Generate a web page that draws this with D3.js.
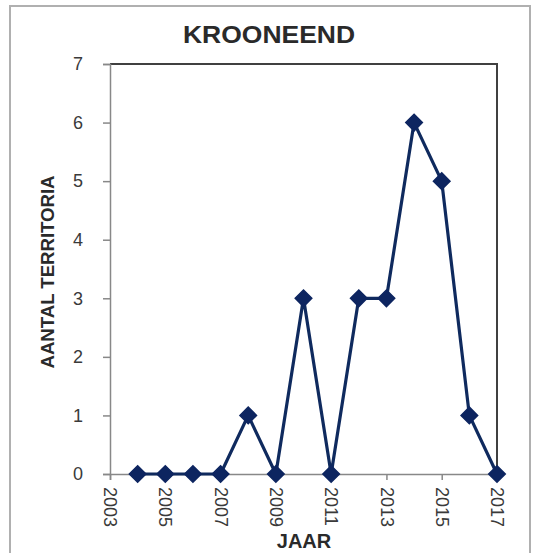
<!DOCTYPE html>
<html><head><meta charset="utf-8">
<script src="https://cdn.jsdelivr.net/npm/d3@7"></script>
<style>body{margin:0;background:#fff}svg{display:block}</style>
</head><body>
<svg id="c" width="534" height="553"></svg>
<script>
const years = [2004,2005,2006,2007,2008,2009,2010,2011,2012,2013,2014,2015,2016,2017];
const values = [0,0,0,0,1,0,3,0,3,3,6,5,1,0];
const xTicks = [2003,2005,2007,2009,2011,2013,2015,2017];
const yTicks = [0,1,2,3,4,5,6,7];
const title = "KROONEEND", yTitle = "AANTAL TERRITORIA", xTitle = "JAAR";

const svg = d3.select("#c");
const font = "'Liberation Sans', Arial, sans-serif";
const L = 110, R = 497, T = 64, B = 474;
const x = d3.scaleLinear().domain([2003,2017]).range([L,R]);
const y = d3.scaleLinear().domain([0,7]).range([B,T]);

// outer chart frame
svg.append("rect").attr("x",10).attr("y",6).attr("width",520).attr("height",560)
  .attr("fill","#fff").attr("stroke","#b0b0b0").attr("stroke-width",2);

// plot area border (top/right dark)
svg.append("path").attr("d",`M${L},${T}H${R}V${B}`).attr("fill","none")
  .attr("stroke","#404040").attr("stroke-width",2);

// y axis
const ya = svg.append("g").attr("transform",`translate(${L},0)`)
  .call(d3.axisLeft(y).tickValues(yTicks).tickSize(7).tickPadding(20).tickFormat(d3.format("d")));
ya.select(".domain").attr("stroke","#888").attr("stroke-width",1.5);
ya.selectAll(".tick line").attr("stroke","#888").attr("stroke-width",1.5);
ya.selectAll("text").attr("font-family",font).attr("font-size",18).attr("fill","#3a3a3a");

// x axis
const xa = svg.append("g").attr("transform",`translate(0,${B})`)
  .call(d3.axisBottom(x).tickValues(xTicks).tickSize(6).tickFormat(d3.format("d")));
xa.select(".domain").attr("stroke","#888").attr("stroke-width",1.5);
xa.selectAll(".tick line").attr("stroke","#888").attr("stroke-width",1.5);
xa.selectAll("text").attr("font-family",font).attr("font-size",18).attr("fill","#3a3a3a")
  .attr("transform","rotate(90)").attr("text-anchor","start")
  .attr("x",13).attr("y",0).attr("dy","0.35em");

// line
svg.append("path").datum(years.map((d,i)=>[d,values[i]]))
  .attr("fill","none").attr("stroke","#0f2a5e").attr("stroke-width",3.2)
  .attr("stroke-linejoin","round")
  .attr("d",d3.line().x(d=>x(d[0])).y(d=>y(d[1])));

// diamonds
const sym = d3.symbol().type(d3.symbolDiamond2).size(175);
svg.append("g").selectAll("path").data(years.map((d,i)=>[d,values[i]])).join("path")
  .attr("transform",d=>`translate(${x(d[0])},${y(d[1])})`)
  .attr("d",sym).attr("fill","#0d2560").attr("stroke","#0d2560").attr("stroke-width",1.5);

// titles
svg.append("text").attr("x",269).attr("y",43).attr("text-anchor","middle")
  .attr("font-family",font).attr("font-weight","bold").attr("font-size",23).attr("fill","#2a2a2a")
  .attr("textLength",172).attr("lengthAdjust","spacingAndGlyphs").text(title);
svg.append("text").attr("transform","translate(54,272) rotate(-90)").attr("text-anchor","middle")
  .attr("font-family",font).attr("font-weight","bold").attr("font-size",18).attr("fill","#2a2a2a")
  .attr("textLength",193).attr("lengthAdjust","spacingAndGlyphs").text(yTitle);
svg.append("text").attr("x",304).attr("y",548).attr("text-anchor","middle")
  .attr("font-family",font).attr("font-weight","bold").attr("font-size",20).attr("fill","#2a2a2a").text(xTitle);
</script>
</body></html>
